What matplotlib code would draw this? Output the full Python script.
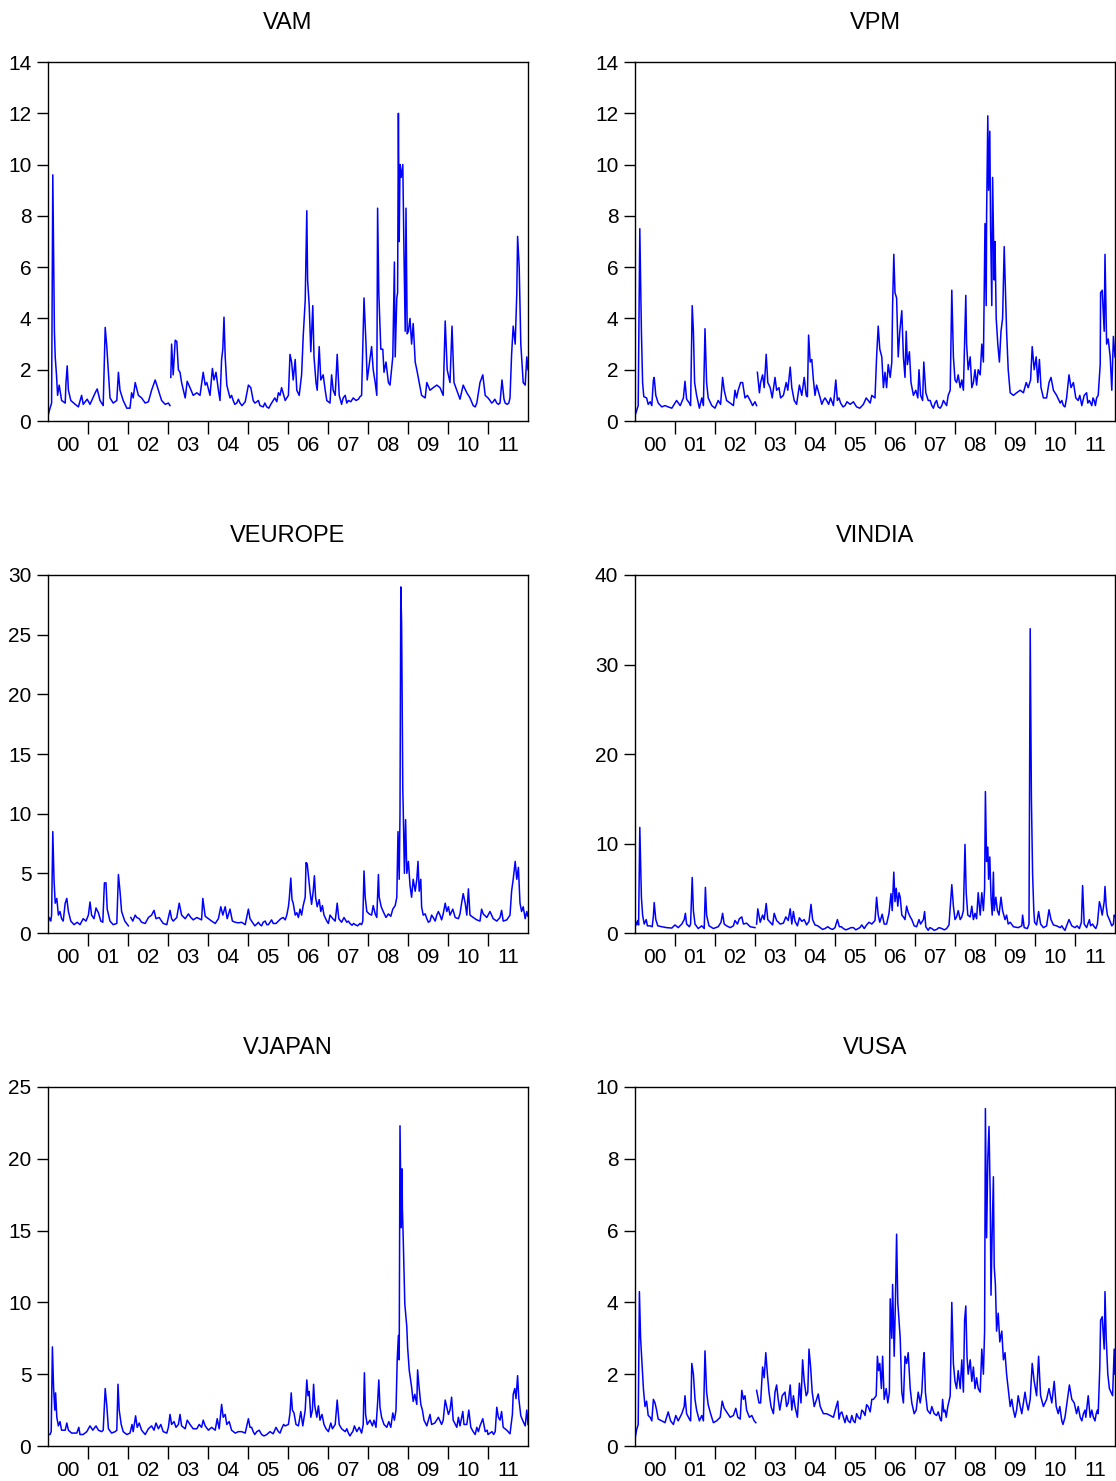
import numpy as np
import matplotlib
matplotlib.use("Agg")
import matplotlib.pyplot as plt
from matplotlib.ticker import FixedLocator, NullFormatter, FixedFormatter

plt.rcParams["font.family"] = ["Liberation Sans", "DejaVu Sans"]

# (decimal year, value); None marks a break in the series
VAM = [
    (2000.00, 0.2), (2000.05, 0.5), (2000.09, 0.7), (2000.12, 9.6), (2000.16, 3.5), (2000.18, 2.5),
    (2000.21, 1.85), (2000.24, 1.0), (2000.28, 1.4), (2000.34, 0.8), (2000.43, 0.7), (2000.45, 1.5),
    (2000.48, 2.15), (2000.51, 1.2), (2000.57, 0.8), (2000.68, 0.65), (2000.76, 0.55), (2000.84, 1.0),
    (2000.88, 0.65), (2000.98, 0.85), (2001.05, 0.65), (2001.18, 1.1), (2001.23, 1.25), (2001.30, 0.8),
    (2001.38, 0.6), (2001.43, 3.65), (2001.47, 2.9), (2001.51, 1.9), (2001.55, 0.9), (2001.63, 0.7),
    (2001.72, 0.8), (2001.76, 1.9), (2001.80, 1.2), (2001.88, 0.8), (2001.97, 0.5), (2002.05, 0.5),
    (2002.09, 1.1), (2002.13, 0.9), (2002.18, 1.5), (2002.26, 1.0), (2002.34, 0.9), (2002.43, 0.7),
    (2002.51, 0.75), (2002.59, 1.2), (2002.68, 1.6), (2002.76, 1.2), (2002.84, 0.8), (2002.93, 0.65),
    (2003.01, 0.7), (2003.05, 0.6), (2003.06, None), (2003.07, 1.7), (2003.09, 3.0), (2003.13, 1.8),
    (2003.18, 3.15), (2003.22, 3.1), (2003.26, 2.0), (2003.30, 1.9), (2003.34, 1.5), (2003.43, 0.9),
    (2003.48, 1.55), (2003.55, 1.3), (2003.63, 1.0), (2003.72, 1.1), (2003.80, 1.0), (2003.88, 1.9),
    (2003.93, 1.4), (2003.97, 1.5), (2004.05, 1.0), (2004.11, 2.05), (2004.15, 1.6), (2004.20, 1.9),
    (2004.26, 1.2), (2004.30, 0.8), (2004.34, 2.4), (2004.37, 2.8), (2004.40, 4.05), (2004.43, 2.5),
    (2004.47, 1.4), (2004.55, 0.9), (2004.59, 1.0), (2004.63, 0.8), (2004.67, 0.65), (2004.72, 0.7),
    (2004.76, 0.85), (2004.80, 0.7), (2004.85, 0.6), (2004.93, 0.75), (2005.01, 1.4), (2005.07, 1.3),
    (2005.13, 0.8), (2005.17, 0.7), (2005.22, 0.75), (2005.26, 0.8), (2005.30, 0.6), (2005.38, 0.55),
    (2005.42, 0.7), (2005.47, 0.55), (2005.52, 0.5), (2005.57, 0.65), (2005.63, 0.8), (2005.67, 0.9),
    (2005.72, 0.75), (2005.76, 1.1), (2005.80, 1.0), (2005.84, 1.3), (2005.93, 0.8), (2006.01, 1.0),
    (2006.05, 2.6), (2006.09, 2.3), (2006.13, 1.6), (2006.18, 2.4), (2006.22, 1.2), (2006.28, 1.0),
    (2006.34, 1.8), (2006.38, 3.3), (2006.43, 4.7), (2006.47, 8.2), (2006.49, 5.5), (2006.53, 4.5),
    (2006.57, 2.7), (2006.62, 4.5), (2006.65, 2.5), (2006.70, 1.5), (2006.73, 1.2), (2006.78, 2.9),
    (2006.82, 1.6), (2006.88, 1.8), (2006.93, 1.2), (2006.97, 0.8), (2007.05, 0.7), (2007.09, 1.8),
    (2007.13, 1.2), (2007.18, 1.0), (2007.23, 2.6), (2007.28, 1.0), (2007.34, 0.65), (2007.38, 0.9),
    (2007.43, 1.0), (2007.47, 0.7), (2007.51, 0.8), (2007.57, 0.75), (2007.63, 0.9), (2007.70, 0.8),
    (2007.76, 0.85), (2007.80, 0.95), (2007.84, 1.0), (2007.90, 4.8), (2007.95, 3.0),
    (2007.98, 1.6), (2008.03, 2.2), (2008.09, 2.9), (2008.13, 2.0), (2008.18, 1.5), (2008.22, 1.0),
    (2008.24, 8.3), (2008.27, 5.0), (2008.32, 2.8), (2008.37, 2.8), (2008.40, 1.9), (2008.45, 2.3),
    (2008.51, 1.5), (2008.55, 1.4), (2008.62, 2.5), (2008.66, 6.2), (2008.68, 2.5), (2008.72, 4.8),
    (2008.74, 5.0), (2008.76, 12.0), (2008.78, 7.0), (2008.80, 10.0), (2008.83, 9.5), (2008.87, 10.0),
    (2008.90, 6.5), (2008.93, 3.5), (2008.95, 8.3), (2008.98, 3.4), (2009.01, 3.5), (2009.05, 4.0),
    (2009.09, 3.0), (2009.13, 3.8), (2009.18, 2.3), (2009.22, 2.0), (2009.28, 1.5), (2009.34, 1.0),
    (2009.43, 0.9), (2009.47, 1.5), (2009.55, 1.2), (2009.63, 1.3), (2009.72, 1.4), (2009.80, 1.3),
    (2009.88, 1.0), (2009.93, 3.9), (2009.98, 2.0), (2010.05, 1.5), (2010.10, 3.7), (2010.15, 1.5),
    (2010.22, 1.2), (2010.30, 0.85), (2010.38, 1.4), (2010.47, 1.1), (2010.55, 0.9), (2010.59, 0.75),
    (2010.63, 0.6), (2010.68, 0.55), (2010.72, 0.7), (2010.80, 1.5), (2010.87, 1.8), (2010.93, 1.0),
    (2011.00, 0.9), (2011.05, 0.8), (2011.09, 0.7), (2011.13, 0.75), (2011.17, 0.85), (2011.22, 0.7),
    (2011.26, 0.65), (2011.30, 0.7), (2011.35, 1.6), (2011.40, 0.85), (2011.43, 0.7), (2011.48, 0.65),
    (2011.52, 0.7), (2011.55, 0.9),
    (2011.59, 2.6), (2011.63, 3.7), (2011.68, 3.0), (2011.72, 5.0), (2011.74, 7.2), (2011.78, 6.0),
    (2011.82, 3.0), (2011.88, 1.5), (2011.93, 1.4), (2011.97, 2.5), (2012.00, 2.0),
]

VPM = [
    (2000.00, 0.2), (2000.04, 0.4), (2000.08, 0.6), (2000.12, 7.5), (2000.16, 3.5), (2000.19, 1.5),
    (2000.22, 0.95), (2000.29, 0.9), (2000.33, 0.65), (2000.38, 0.75), (2000.42, 0.6), (2000.46, 1.6),
    (2000.48, 1.7), (2000.52, 1.0), (2000.58, 0.7), (2000.67, 0.55), (2000.75, 0.6), (2000.83, 0.55),
    (2000.92, 0.5), (2001.04, 0.8), (2001.13, 0.6), (2001.21, 0.9), (2001.25, 1.55), (2001.29, 0.85),
    (2001.36, 0.7), (2001.39, 0.6), (2001.43, 4.5), (2001.46, 3.5), (2001.49, 1.5), (2001.54, 1.0),
    (2001.61, 0.5), (2001.67, 0.9), (2001.71, 0.6), (2001.75, 3.6), (2001.79, 1.5), (2001.83, 0.9),
    (2001.92, 0.6), (2002.00, 0.5), (2002.08, 0.8), (2002.14, 0.65), (2002.19, 1.7), (2002.23, 1.2),
    (2002.29, 0.8), (2002.38, 0.7), (2002.46, 0.6), (2002.50, 1.2), (2002.54, 0.9), (2002.58, 1.2),
    (2002.64, 1.5), (2002.69, 1.5), (2002.75, 0.9), (2002.81, 1.0), (2002.88, 0.8), (2002.94, 0.6),
    (2003.00, 0.75), (2003.04, 0.6), (2003.05, None), (2003.06, 1.9), (2003.11, 1.1), (2003.14, 1.5),
    (2003.19, 1.8), (2003.23, 1.3), (2003.28, 2.6), (2003.32, 1.5), (2003.38, 1.3), (2003.43, 0.9),
    (2003.50, 1.7), (2003.54, 1.2), (2003.60, 1.3), (2003.64, 0.9), (2003.71, 1.0), (2003.78, 1.5),
    (2003.82, 1.2), (2003.88, 2.1), (2003.92, 1.3), (2003.98, 0.8), (2004.04, 0.65), (2004.11, 1.4),
    (2004.17, 1.0), (2004.23, 1.7), (2004.28, 1.0), (2004.31, 0.95), (2004.34, 3.35), (2004.38, 2.3),
    (2004.42, 2.4), (2004.46, 1.6), (2004.50, 1.0), (2004.54, 1.4), (2004.63, 0.9), (2004.67, 0.65),
    (2004.71, 0.8), (2004.75, 0.9), (2004.79, 0.8), (2004.84, 0.65), (2004.89, 0.9), (2004.96, 0.6),
    (2005.02, 1.6), (2005.06, 0.8), (2005.10, 0.9), (2005.14, 0.7), (2005.20, 0.55), (2005.25, 0.6),
    (2005.30, 0.75), (2005.38, 0.65), (2005.46, 0.75), (2005.54, 0.55), (2005.62, 0.5), (2005.71, 0.65),
    (2005.78, 0.9), (2005.83, 0.8), (2005.88, 0.7), (2005.92, 1.0),
    (2006.00, 0.9), (2006.04, 2.5), (2006.08, 3.7), (2006.12, 2.8), (2006.17, 2.5), (2006.21, 1.3),
    (2006.25, 1.9), (2006.29, 1.3), (2006.33, 2.2), (2006.38, 1.7), (2006.42, 2.3), (2006.44, 4.5),
    (2006.47, 6.5), (2006.50, 5.0), (2006.54, 4.8), (2006.58, 2.5), (2006.62, 3.5), (2006.67, 4.3),
    (2006.71, 2.5), (2006.75, 1.7), (2006.78, 3.5), (2006.81, 2.2), (2006.86, 2.7), (2006.90, 1.5),
    (2006.96, 1.0), (2007.02, 1.2), (2007.07, 0.9), (2007.10, 2.0), (2007.14, 1.0), (2007.19, 0.8),
    (2007.22, 2.3), (2007.27, 1.1), (2007.33, 0.8), (2007.38, 0.8), (2007.42, 0.6), (2007.46, 0.5),
    (2007.50, 0.7), (2007.54, 0.8), (2007.58, 0.55), (2007.63, 0.5), (2007.67, 0.6), (2007.71, 0.8),
    (2007.75, 0.7), (2007.79, 0.6), (2007.83, 1.0), (2007.88, 1.2), (2007.92, 5.1), (2007.96, 2.5),
    (2008.00, 1.6), (2008.04, 1.5), (2008.08, 1.8), (2008.13, 1.3), (2008.17, 1.6), (2008.21, 1.2),
    (2008.24, 3.0), (2008.27, 4.9), (2008.29, 3.0), (2008.33, 2.0), (2008.38, 2.5), (2008.42, 1.3),
    (2008.46, 1.5), (2008.50, 2.0), (2008.54, 1.4), (2008.58, 2.0), (2008.63, 1.8), (2008.67, 3.0),
    (2008.71, 2.3), (2008.75, 7.7), (2008.78, 4.5), (2008.79, 8.0), (2008.82, 11.9), (2008.84, 9.0),
    (2008.87, 11.3), (2008.89, 7.5), (2008.92, 4.5), (2008.94, 9.5), (2008.98, 5.5), (2009.00, 7.0),
    (2009.03, 4.0), (2009.07, 3.0), (2009.11, 2.3), (2009.15, 3.5), (2009.19, 4.0), (2009.23, 6.8),
    (2009.27, 4.5), (2009.29, 3.5), (2009.33, 2.0), (2009.38, 1.1), (2009.46, 1.0), (2009.54, 1.1),
    (2009.63, 1.2), (2009.71, 1.1), (2009.78, 1.5), (2009.83, 1.3), (2009.89, 1.6), (2009.93, 2.9),
    (2009.98, 2.0), (2010.03, 2.5), (2010.07, 1.5), (2010.11, 2.4), (2010.15, 1.3), (2010.21, 0.9),
    (2010.29, 0.9), (2010.35, 1.5), (2010.40, 1.7), (2010.46, 1.2), (2010.54, 1.0), (2010.63, 0.7),
    (2010.67, 0.8), (2010.71, 0.6), (2010.75, 0.55), (2010.79, 0.9), (2010.85, 1.8), (2010.90, 1.3),
    (2010.96, 1.5), (2011.02, 0.9), (2011.08, 0.8), (2011.12, 1.0), (2011.17, 0.6), (2011.20, 0.8),
    (2011.23, 1.0), (2011.29, 1.1), (2011.32, 0.7), (2011.36, 0.8), (2011.42, 0.6), (2011.45, 0.9),
    (2011.48, 0.8), (2011.51, 0.6), (2011.54, 0.9), (2011.58, 1.0), (2011.63, 2.2), (2011.64, 5.0),
    (2011.68, 5.1), (2011.73, 3.5), (2011.75, 6.5), (2011.79, 3.0), (2011.83, 3.2), (2011.88, 2.5),
    (2011.92, 1.2), (2011.96, 3.3), (2012.00, 2.5),
]

VEUROPE = [
    (2000.00, 0.8), (2000.03, 1.3), (2000.07, 1.0), (2000.09, 1.5), (2000.12, 8.5), (2000.15, 4.5),
    (2000.18, 2.5), (2000.22, 2.9), (2000.26, 1.5), (2000.30, 1.8), (2000.34, 1.2), (2000.38, 1.0),
    (2000.43, 2.5), (2000.47, 2.9), (2000.51, 1.8), (2000.57, 1.0), (2000.65, 0.7), (2000.73, 0.9),
    (2000.80, 0.7), (2000.88, 1.2), (2000.95, 1.0), (2001.01, 1.5), (2001.05, 2.6), (2001.09, 1.5),
    (2001.15, 1.2), (2001.20, 2.1), (2001.26, 1.7), (2001.32, 1.0), (2001.37, 0.9), (2001.41, 4.2),
    (2001.45, 4.2), (2001.48, 2.0), (2001.55, 1.0), (2001.63, 0.7), (2001.72, 0.8), (2001.76, 4.9),
    (2001.80, 3.5), (2001.84, 1.8), (2001.92, 1.0), (2002.01, 0.6), (2002.04, None), (2002.07, 1.3),
    (2002.12, 1.0), (2002.18, 1.5), (2002.22, 1.3), (2002.28, 1.2), (2002.34, 0.9), (2002.43, 0.8),
    (2002.51, 1.3), (2002.59, 1.5), (2002.65, 1.9), (2002.70, 1.2), (2002.78, 1.3), (2002.88, 0.8),
    (2002.97, 0.7), (2003.05, 1.9), (2003.09, 1.2), (2003.13, 1.0), (2003.22, 1.3), (2003.28, 2.5),
    (2003.34, 1.5), (2003.43, 1.2), (2003.51, 1.6), (2003.57, 1.3), (2003.63, 1.1), (2003.72, 1.3),
    (2003.78, 1.2), (2003.84, 1.1), (2003.87, 2.9), (2003.93, 1.4), (2004.01, 1.2), (2004.09, 1.0),
    (2004.18, 0.8), (2004.26, 1.2), (2004.32, 2.2), (2004.37, 1.5), (2004.43, 2.2), (2004.48, 1.2),
    (2004.55, 2.0), (2004.61, 1.0), (2004.68, 0.9), (2004.76, 0.85), (2004.84, 0.9), (2004.93, 0.7),
    (2005.01, 2.0), (2005.05, 1.2), (2005.09, 1.0), (2005.13, 0.8), (2005.17, 0.6), (2005.22, 0.75),
    (2005.26, 0.9), (2005.30, 0.7), (2005.34, 0.6), (2005.38, 0.9), (2005.43, 1.0), (2005.47, 0.7),
    (2005.51, 0.7), (2005.55, 0.9), (2005.59, 1.1), (2005.63, 0.8), (2005.70, 0.8), (2005.76, 1.0),
    (2005.82, 1.2), (2005.88, 1.3), (2005.93, 1.1), (2005.97, 1.5),
    (2006.01, 2.2), (2006.03, 2.8), (2006.07, 4.6), (2006.10, 2.8), (2006.13, 2.5), (2006.18, 1.5),
    (2006.22, 1.7), (2006.26, 1.3), (2006.30, 2.0), (2006.34, 1.5), (2006.38, 2.3), (2006.43, 3.0),
    (2006.45, 5.9), (2006.48, 5.8), (2006.52, 4.5), (2006.55, 3.5), (2006.59, 2.4), (2006.63, 3.5),
    (2006.66, 4.8), (2006.69, 3.0), (2006.73, 2.2), (2006.78, 2.8), (2006.82, 1.8), (2006.86, 2.3),
    (2006.90, 1.5), (2006.97, 1.0), (2007.01, 0.8), (2007.05, 1.5), (2007.12, 1.2), (2007.18, 1.0),
    (2007.23, 2.5), (2007.27, 1.2), (2007.34, 0.9), (2007.40, 1.3), (2007.47, 0.9), (2007.51, 1.0),
    (2007.55, 0.8), (2007.60, 0.65), (2007.64, 0.8), (2007.68, 0.7), (2007.74, 0.6), (2007.80, 0.8),
    (2007.84, 0.7), (2007.87, 1.0), (2007.90, 5.2), (2007.93, 3.0), (2007.97, 1.8),
    (2008.03, 1.6), (2008.09, 1.5), (2008.13, 2.3), (2008.18, 1.6), (2008.22, 1.3), (2008.26, 4.9),
    (2008.28, 3.0), (2008.33, 2.2), (2008.38, 1.8), (2008.45, 1.3), (2008.51, 1.6), (2008.57, 1.4),
    (2008.62, 2.0), (2008.68, 2.3), (2008.72, 3.0), (2008.75, 8.5), (2008.78, 4.5), (2008.80, 10.0),
    (2008.82, 29.0), (2008.84, 26.0), (2008.87, 12.0), (2008.88, 10.5), (2008.91, 5.0), (2008.94, 9.5),
    (2008.97, 5.0), (2009.01, 6.0), (2009.05, 4.0), (2009.09, 3.0), (2009.13, 4.5), (2009.18, 3.5),
    (2009.22, 4.5), (2009.25, 6.0), (2009.28, 3.5), (2009.32, 4.5), (2009.34, 2.2), (2009.38, 1.5),
    (2009.43, 1.6), (2009.47, 1.2), (2009.51, 0.9), (2009.55, 1.0), (2009.59, 1.5), (2009.63, 1.3),
    (2009.68, 1.0), (2009.72, 1.5), (2009.76, 1.8), (2009.80, 1.5), (2009.84, 1.1), (2009.88, 1.6),
    (2009.93, 2.5), (2009.97, 1.8), (2010.01, 2.2), (2010.05, 1.5), (2010.12, 2.0), (2010.18, 1.3),
    (2010.26, 1.2), (2010.30, 1.6), (2010.34, 2.5), (2010.38, 3.3), (2010.43, 2.5), (2010.47, 1.5),
    (2010.51, 3.7), (2010.55, 1.5), (2010.63, 1.3), (2010.72, 1.1), (2010.80, 1.0), (2010.84, 2.0),
    (2010.88, 1.6), (2010.97, 1.3), (2011.05, 1.8), (2011.13, 1.2), (2011.22, 1.0), (2011.30, 1.3),
    (2011.34, 1.9), (2011.38, 1.0), (2011.47, 1.1), (2011.55, 1.5), (2011.59, 3.5), (2011.63, 4.5),
    (2011.68, 6.0), (2011.72, 4.5), (2011.76, 5.5), (2011.80, 2.5), (2011.84, 1.8), (2011.88, 2.2),
    (2011.93, 1.2), (2011.97, 1.8), (2012.00, 1.4),
]

VINDIA = [
    (2000.00, 1.5), (2000.04, 0.9), (2000.07, 1.4), (2000.09, 0.9), (2000.12, 11.8), (2000.16, 4.0),
    (2000.19, 2.0), (2000.23, 1.0), (2000.28, 1.5), (2000.31, 0.8), (2000.38, 0.8), (2000.43, 0.7),
    (2000.46, 1.9), (2000.48, 3.4), (2000.52, 1.5), (2000.57, 0.8), (2000.67, 0.7), (2000.79, 0.6),
    (2000.92, 0.55), (2001.00, 0.9), (2001.08, 0.6), (2001.17, 1.0), (2001.23, 1.5), (2001.26, 2.2),
    (2001.29, 1.0), (2001.36, 0.7), (2001.39, 1.0), (2001.43, 6.2), (2001.46, 2.5), (2001.50, 1.0),
    (2001.58, 0.5), (2001.67, 0.8), (2001.73, 0.5), (2001.76, 5.1), (2001.79, 2.0), (2001.85, 0.8),
    (2001.96, 0.5), (2002.08, 0.7), (2002.15, 1.2), (2002.19, 2.2), (2002.23, 1.0), (2002.29, 0.8),
    (2002.38, 0.6), (2002.46, 0.8), (2002.50, 1.4), (2002.56, 1.0), (2002.61, 1.6), (2002.67, 1.8),
    (2002.71, 1.0), (2002.79, 1.1), (2002.88, 0.7), (2003.00, 0.6), (2003.02, None), (2003.04, 1.0),
    (2003.07, 2.7), (2003.13, 1.2), (2003.19, 2.0), (2003.23, 1.5), (2003.28, 3.3), (2003.32, 1.5),
    (2003.38, 1.2), (2003.44, 0.9), (2003.48, 2.2), (2003.54, 1.4), (2003.63, 1.0), (2003.71, 1.1),
    (2003.77, 1.8), (2003.83, 1.4), (2003.88, 2.7), (2003.92, 1.0), (2003.96, 2.4), (2004.00, 1.3),
    (2004.06, 0.8), (2004.11, 1.7), (2004.17, 1.3), (2004.23, 1.5), (2004.29, 0.9), (2004.35, 1.3),
    (2004.40, 3.2), (2004.44, 1.5), (2004.50, 0.9), (2004.57, 0.8), (2004.63, 0.6), (2004.69, 0.4),
    (2004.75, 0.5), (2004.82, 0.7), (2004.88, 0.5), (2004.94, 0.4), (2005.00, 0.6), (2005.06, 1.5),
    (2005.11, 0.7), (2005.16, 0.7), (2005.21, 0.5), (2005.27, 0.35), (2005.33, 0.45), (2005.40, 0.6),
    (2005.46, 0.6), (2005.52, 0.35), (2005.58, 0.5), (2005.62, 0.6), (2005.67, 0.9), (2005.73, 0.5),
    (2005.79, 0.9), (2005.85, 1.2), (2005.92, 1.0), (2006.00, 1.4), (2006.04, 4.0),
    (2006.08, 2.0), (2006.12, 1.2), (2006.18, 2.1), (2006.23, 1.0), (2006.29, 1.0), (2006.35, 2.2),
    (2006.40, 4.4), (2006.43, 2.5), (2006.47, 6.8), (2006.50, 3.5), (2006.53, 5.0), (2006.57, 3.0),
    (2006.60, 4.5), (2006.63, 4.0), (2006.67, 2.0), (2006.71, 1.8), (2006.75, 1.5), (2006.79, 3.0),
    (2006.83, 2.3), (2006.88, 1.8), (2006.92, 1.5), (2006.98, 0.8), (2007.04, 0.7), (2007.10, 1.5),
    (2007.14, 1.0), (2007.21, 1.5), (2007.24, 2.4), (2007.27, 0.7), (2007.33, 0.3), (2007.37, 0.6),
    (2007.42, 0.5), (2007.48, 0.3), (2007.54, 0.4), (2007.60, 0.6), (2007.67, 0.5), (2007.73, 0.35),
    (2007.79, 0.5), (2007.85, 0.9), (2007.92, 5.4), (2007.96, 3.0),
    (2008.00, 1.5), (2008.04, 1.8), (2008.08, 2.5), (2008.13, 1.5), (2008.17, 1.8), (2008.21, 2.5),
    (2008.25, 9.9), (2008.28, 4.5), (2008.32, 2.0), (2008.38, 1.8), (2008.42, 3.0), (2008.46, 1.5),
    (2008.50, 2.2), (2008.54, 1.6), (2008.58, 4.5), (2008.63, 2.0), (2008.67, 4.5), (2008.71, 2.5),
    (2008.74, 5.0), (2008.76, 15.8), (2008.79, 8.0), (2008.82, 9.6), (2008.84, 6.0), (2008.87, 8.5),
    (2008.90, 4.0), (2008.93, 2.0), (2008.96, 6.8), (2008.98, 2.5), (2009.02, 4.0), (2009.06, 2.5),
    (2009.10, 2.0), (2009.15, 4.0), (2009.19, 2.5), (2009.25, 1.5), (2009.29, 2.0), (2009.33, 1.0),
    (2009.38, 1.2), (2009.46, 0.7), (2009.58, 0.6), (2009.67, 0.8), (2009.69, 2.0), (2009.73, 0.6),
    (2009.81, 0.5), (2009.85, 1.0), (2009.88, 34.0), (2009.91, 15.0), (2009.94, 6.6), (2009.97, 2.5),
    (2009.99, 1.2), (2010.04, 0.9), (2010.09, 2.4), (2010.14, 1.0), (2010.21, 0.6), (2010.29, 0.8),
    (2010.35, 2.6), (2010.40, 1.5), (2010.46, 0.9), (2010.54, 0.8), (2010.63, 0.6), (2010.67, 0.8),
    (2010.71, 0.5), (2010.75, 0.3), (2010.79, 0.8), (2010.85, 1.5), (2010.92, 0.8), (2011.00, 0.6),
    (2011.05, 0.8), (2011.11, 0.5), (2011.16, 1.2), (2011.19, 5.3), (2011.23, 1.0), (2011.29, 0.6),
    (2011.36, 1.5), (2011.39, 0.8), (2011.44, 1.0), (2011.48, 0.7), (2011.52, 0.5),
    (2011.56, 1.0), (2011.61, 3.5), (2011.64, 3.0), (2011.68, 2.0), (2011.73, 3.5), (2011.75, 5.2),
    (2011.78, 3.0), (2011.81, 2.0), (2011.86, 1.5), (2011.92, 0.8), (2011.96, 1.0), (2011.98, 2.0),
    (2012.00, 1.8),
]

VJAPAN = [
    (2000.00, 0.8), (2000.05, 0.8), (2000.08, 1.0), (2000.11, 6.9), (2000.14, 4.0), (2000.17, 2.5),
    (2000.19, 3.7), (2000.22, 2.0), (2000.26, 1.4), (2000.30, 1.7), (2000.34, 1.1), (2000.43, 1.1),
    (2000.47, 1.6), (2000.51, 1.1), (2000.59, 0.9), (2000.72, 0.9), (2000.77, 1.3), (2000.80, 0.8),
    (2000.88, 0.8), (2000.97, 1.0), (2001.05, 1.4), (2001.12, 1.1), (2001.20, 1.4), (2001.26, 1.1),
    (2001.34, 1.0), (2001.38, 1.1), (2001.43, 4.0), (2001.47, 2.8), (2001.51, 1.2), (2001.59, 0.9),
    (2001.68, 1.0), (2001.72, 1.1), (2001.75, 4.3), (2001.78, 2.5), (2001.83, 1.5), (2001.88, 1.0),
    (2001.97, 0.8), (2002.05, 0.9), (2002.10, 1.5), (2002.13, 1.0), (2002.19, 2.1), (2002.23, 1.3),
    (2002.28, 1.6), (2002.34, 1.1), (2002.43, 0.8), (2002.51, 1.2), (2002.59, 1.4), (2002.65, 1.1),
    (2002.70, 1.6), (2002.76, 1.2), (2002.82, 1.5), (2002.88, 1.0), (2002.97, 0.9), (2003.01, 1.3),
    (2003.05, 2.2), (2003.09, 1.5), (2003.15, 1.7), (2003.20, 1.3), (2003.26, 1.5), (2003.30, 2.2),
    (2003.34, 1.4), (2003.43, 1.2), (2003.48, 1.8), (2003.55, 1.5), (2003.63, 1.2), (2003.72, 1.2),
    (2003.78, 1.5), (2003.84, 1.3), (2003.88, 1.8), (2003.93, 1.4), (2004.01, 1.1), (2004.09, 1.3),
    (2004.18, 1.1), (2004.23, 1.9), (2004.28, 1.2), (2004.34, 2.9), (2004.38, 2.0), (2004.43, 2.2),
    (2004.47, 1.5), (2004.53, 1.7), (2004.59, 1.1), (2004.68, 0.9), (2004.76, 1.0), (2004.84, 1.0),
    (2004.93, 0.9), (2005.01, 1.9), (2005.05, 1.3), (2005.09, 1.3), (2005.13, 1.0), (2005.17, 0.8),
    (2005.22, 1.0), (2005.28, 1.1), (2005.34, 0.8), (2005.40, 0.7), (2005.47, 0.8), (2005.55, 1.0),
    (2005.63, 0.85), (2005.70, 1.3), (2005.76, 1.0), (2005.80, 0.9), (2005.84, 1.2), (2005.89, 1.5),
    (2005.93, 1.4), (2006.01, 1.5),
    (2006.05, 2.3), (2006.08, 3.7), (2006.11, 2.5), (2006.15, 2.3), (2006.20, 1.5), (2006.26, 1.4),
    (2006.32, 2.4), (2006.37, 1.4), (2006.43, 2.5), (2006.47, 4.6), (2006.50, 3.5), (2006.53, 3.8),
    (2006.57, 2.0), (2006.61, 2.5), (2006.64, 4.3), (2006.67, 2.8), (2006.72, 2.0), (2006.76, 2.8),
    (2006.80, 1.8), (2006.85, 2.2), (2006.90, 1.5), (2006.95, 1.2), (2007.01, 1.0), (2007.07, 1.6),
    (2007.11, 1.2), (2007.18, 1.5), (2007.23, 3.2), (2007.28, 1.5), (2007.34, 1.2), (2007.43, 1.0),
    (2007.47, 1.2), (2007.51, 0.9), (2007.55, 0.7), (2007.59, 0.9), (2007.62, 1.0), (2007.66, 1.4),
    (2007.72, 1.0), (2007.78, 1.3), (2007.84, 0.9),
    (2007.88, 1.5), (2007.91, 5.1), (2007.94, 2.2), (2007.98, 1.5), (2008.05, 1.8), (2008.11, 1.4),
    (2008.15, 1.8), (2008.20, 1.3), (2008.24, 3.0), (2008.27, 4.6), (2008.30, 2.7), (2008.34, 2.0),
    (2008.40, 1.5), (2008.47, 1.3), (2008.52, 1.7), (2008.57, 1.3), (2008.62, 2.3), (2008.66, 1.8),
    (2008.70, 2.5), (2008.73, 6.0), (2008.76, 7.7), (2008.78, 6.0), (2008.80, 22.3), (2008.83, 15.2),
    (2008.85, 19.3), (2008.86, 16.5), (2008.88, 14.5), (2008.92, 9.9), (2008.97, 8.3), (2008.99, 6.9),
    (2009.03, 5.3), (2009.09, 4.1), (2009.13, 3.1), (2009.17, 3.6), (2009.22, 2.9), (2009.24, 5.3),
    (2009.27, 4.3), (2009.32, 2.9), (2009.36, 2.5), (2009.40, 1.8), (2009.47, 1.4), (2009.55, 2.2),
    (2009.59, 1.5), (2009.67, 1.6), (2009.76, 2.0), (2009.84, 1.5), (2009.88, 1.8), (2009.93, 3.2),
    (2009.97, 2.7), (2010.01, 2.2), (2010.05, 2.5), (2010.09, 3.4), (2010.13, 1.8), (2010.22, 1.3),
    (2010.26, 2.0), (2010.30, 1.4), (2010.37, 2.4), (2010.40, 1.5), (2010.47, 1.5), (2010.52, 2.5),
    (2010.57, 1.3), (2010.63, 1.0), (2010.68, 0.8), (2010.72, 1.3), (2010.76, 1.0), (2010.80, 1.4),
    (2010.87, 1.9), (2010.93, 1.0), (2010.98, 1.1), (2011.00, 0.8), (2011.05, 0.9), (2011.10, 1.0),
    (2011.14, 0.8), (2011.18, 1.0), (2011.22, 2.7), (2011.26, 2.0), (2011.30, 1.8), (2011.34, 2.4),
    (2011.38, 1.3), (2011.47, 1.1), (2011.55, 0.85), (2011.61, 2.2), (2011.63, 3.6), (2011.67, 4.0),
    (2011.70, 3.3), (2011.74, 4.9), (2011.77, 3.3), (2011.82, 2.1), (2011.88, 1.7), (2011.93, 1.4),
    (2011.97, 2.5), (2012.00, 1.5),
]

VUSA = [
    (2000.00, 0.2), (2000.04, 0.45), (2000.08, 0.6), (2000.11, 4.3), (2000.14, 3.0), (2000.17, 2.4),
    (2000.21, 1.6), (2000.25, 1.1), (2000.29, 1.25), (2000.33, 0.85), (2000.38, 0.8), (2000.42, 0.7),
    (2000.46, 1.3), (2000.50, 1.2), (2000.54, 1.0), (2000.58, 0.75), (2000.67, 0.7), (2000.75, 0.65),
    (2000.83, 0.95), (2000.89, 0.7), (2000.96, 0.6), (2001.02, 0.85), (2001.08, 0.7), (2001.17, 0.9),
    (2001.23, 1.1), (2001.25, 1.4), (2001.29, 0.9), (2001.36, 0.75), (2001.39, 0.7), (2001.42, 2.3),
    (2001.46, 2.0), (2001.50, 1.3), (2001.54, 1.0), (2001.61, 0.7), (2001.67, 0.85), (2001.71, 0.7),
    (2001.75, 2.65), (2001.79, 1.5), (2001.83, 1.15), (2001.89, 0.9), (2001.96, 0.65), (2002.04, 0.7),
    (2002.13, 0.8), (2002.18, 1.25), (2002.23, 1.05), (2002.29, 0.95), (2002.38, 0.8), (2002.46, 0.85),
    (2002.52, 1.05), (2002.57, 0.8), (2002.63, 0.75), (2002.67, 1.55), (2002.71, 1.3), (2002.75, 1.4),
    (2002.79, 1.0), (2002.86, 0.8), (2002.92, 0.85), (2002.98, 0.7), (2003.02, 0.65), (2003.03, None),
    (2003.04, 1.55), (2003.10, 1.2), (2003.14, 1.2), (2003.19, 2.2), (2003.23, 1.9), (2003.27, 2.6),
    (2003.31, 2.0), (2003.35, 1.5), (2003.40, 1.1), (2003.46, 0.9), (2003.50, 1.5), (2003.54, 1.7),
    (2003.58, 1.3), (2003.62, 1.0), (2003.68, 1.4), (2003.75, 1.5), (2003.79, 1.1), (2003.83, 1.2),
    (2003.88, 1.7), (2003.92, 1.0), (2003.96, 1.4), (2004.00, 1.1), (2004.06, 0.8), (2004.11, 1.75),
    (2004.15, 1.2), (2004.19, 2.4), (2004.23, 1.8), (2004.28, 1.4), (2004.32, 1.5), (2004.35, 2.7),
    (2004.39, 2.2), (2004.43, 1.5), (2004.48, 1.1), (2004.54, 1.3), (2004.58, 1.45), (2004.63, 1.1),
    (2004.71, 0.9), (2004.79, 0.9), (2004.88, 0.85), (2004.96, 0.8), (2005.03, 1.1), (2005.07, 1.25),
    (2005.10, 0.75), (2005.13, 0.9), (2005.17, 0.95), (2005.21, 0.8), (2005.25, 0.65), (2005.29, 0.85),
    (2005.33, 0.7), (2005.38, 0.65), (2005.42, 0.85), (2005.46, 0.7), (2005.50, 0.65), (2005.54, 0.9),
    (2005.58, 0.8), (2005.63, 0.75), (2005.67, 1.0), (2005.71, 0.95), (2005.75, 0.85), (2005.79, 1.15),
    (2005.83, 1.1), (2005.88, 0.95), (2005.92, 1.3), (2005.96, 1.3),
    (2006.03, 1.4), (2006.06, 2.5), (2006.09, 2.1), (2006.12, 2.3),
    (2006.16, 1.6), (2006.19, 2.5), (2006.23, 1.3), (2006.28, 1.6), (2006.32, 1.2), (2006.36, 1.5),
    (2006.38, 4.1), (2006.42, 3.0), (2006.44, 4.5), (2006.48, 2.5), (2006.51, 4.0), (2006.54, 5.9),
    (2006.57, 4.0), (2006.60, 3.5), (2006.63, 3.0), (2006.67, 1.5), (2006.71, 1.2), (2006.75, 2.5),
    (2006.79, 2.3), (2006.83, 2.6), (2006.88, 1.6), (2006.92, 1.2), (2006.98, 0.9), (2007.03, 1.0),
    (2007.08, 1.5), (2007.13, 1.2), (2007.17, 1.5), (2007.21, 2.4), (2007.23, 2.6), (2007.26, 1.5),
    (2007.31, 1.0), (2007.38, 0.9), (2007.42, 1.1), (2007.48, 0.9), (2007.54, 0.85), (2007.58, 0.95),
    (2007.63, 0.75), (2007.66, 0.7), (2007.69, 1.3), (2007.72, 0.95), (2007.75, 1.0), (2007.78, 0.8),
    (2007.82, 1.1), (2007.88, 1.4), (2007.92, 4.0), (2007.96, 2.3),
    (2008.00, 1.8), (2008.04, 1.6), (2008.08, 2.1), (2008.13, 1.6), (2008.17, 2.4), (2008.21, 1.5),
    (2008.24, 3.5), (2008.27, 3.9), (2008.30, 2.5), (2008.33, 2.0), (2008.38, 2.4), (2008.42, 1.8),
    (2008.46, 2.2), (2008.50, 1.6), (2008.54, 1.9), (2008.58, 1.6), (2008.63, 1.5), (2008.67, 2.7),
    (2008.71, 2.0), (2008.74, 3.2), (2008.76, 9.4), (2008.79, 5.8), (2008.82, 8.0), (2008.85, 8.9),
    (2008.88, 7.0), (2008.90, 4.2), (2008.93, 6.0), (2008.96, 7.5), (2008.98, 5.0), (2009.01, 4.5),
    (2009.04, 3.2), (2009.08, 3.7), (2009.12, 2.9), (2009.17, 3.2), (2009.21, 2.4), (2009.25, 2.6),
    (2009.29, 2.0), (2009.33, 1.6), (2009.38, 1.1), (2009.42, 1.3), (2009.46, 1.0), (2009.50, 0.8),
    (2009.54, 1.0), (2009.58, 1.4), (2009.63, 1.1), (2009.67, 0.9), (2009.71, 1.2), (2009.75, 1.5),
    (2009.79, 1.2), (2009.83, 1.0), (2009.88, 1.3), (2009.93, 2.3), (2009.98, 1.8), (2010.04, 1.4),
    (2010.09, 2.5), (2010.14, 1.4), (2010.21, 1.1), (2010.29, 1.3), (2010.35, 1.6), (2010.42, 1.2),
    (2010.48, 1.8), (2010.53, 1.1), (2010.58, 0.9), (2010.62, 1.1), (2010.67, 0.7), (2010.70, 0.6),
    (2010.75, 0.8), (2010.81, 1.3), (2010.86, 1.7), (2010.92, 1.3), (2010.98, 1.2), (2011.04, 0.9),
    (2011.08, 1.1), (2011.13, 0.8), (2011.17, 0.7), (2011.21, 0.9), (2011.25, 1.0), (2011.27, 0.8),
    (2011.33, 1.4), (2011.38, 0.8), (2011.42, 1.0), (2011.46, 0.8), (2011.50, 0.7), (2011.53, 0.9),
    (2011.56, 1.0), (2011.58, 0.9),
    (2011.62, 2.2), (2011.64, 3.5), (2011.68, 3.6), (2011.73, 2.7), (2011.75, 4.3), (2011.78, 3.0),
    (2011.82, 2.0), (2011.86, 1.6), (2011.90, 1.5), (2011.94, 1.4), (2011.98, 2.7), (2012.00, 2.0),
]

TITLES = ["VAM", "VPM", "VEUROPE", "VINDIA", "VJAPAN", "VUSA"]
SERIES = [VAM, VPM, VEUROPE, VINDIA, VJAPAN, VUSA]
Y_TOPS = [14, 14, 30, 40, 25, 10]
Y_STEPS = [2, 2, 5, 10, 5, 2]
YEARS = list(range(2000, 2012))
YEAR_LABELS = [f"{y % 100:02d}" for y in YEARS]

W, H = 1116, 1481
fig = plt.figure(figsize=(W / 100, H / 100), dpi=100)

# axes boxes in pixels: (left, right) per column, (top, bottom) per row
col_px = [(48, 528), (635, 1115)]
row_px = [(62, 421), (575, 933), (1087, 1446)]

for i, (name, data) in enumerate(zip(TITLES, SERIES)):
    r, c = divmod(i, 2)
    x0, x1 = col_px[c]
    y0, y1 = row_px[r]
    ax = fig.add_axes([x0 / W, 1 - y1 / H, (x1 - x0) / W, (y1 - y0) / H])

    data = sorted(data, key=lambda p: p[0])
    t = np.array([p[0] for p in data])
    v = np.array([np.nan if p[1] is None else p[1] for p in data], dtype=float)
    ax.plot(t, v, color="#0000FF", linewidth=1.1)

    ax.set_xlim(2000, 2012)
    ax.set_ylim(0, Y_TOPS[i])
    ax.set_yticks(np.arange(0, Y_TOPS[i] + 0.1, Y_STEPS[i]))

    # ticks at year boundaries, labels centred in each year
    ax.xaxis.set_major_locator(FixedLocator(YEARS[1:]))
    ax.xaxis.set_major_formatter(NullFormatter())
    ax.xaxis.set_minor_locator(FixedLocator([y + 0.5 for y in YEARS]))
    ax.xaxis.set_minor_formatter(FixedFormatter(YEAR_LABELS))
    ax.tick_params(axis="x", which="major", direction="out", length=9, width=1.0)
    ax.tick_params(axis="x", which="minor", length=0, pad=11, labelsize=15)
    ax.tick_params(axis="y", direction="out", length=8, width=1.0, pad=4, labelsize=15)

    for s in ax.spines.values():
        s.set_linewidth(1.0)
        s.set_color("black")

    ax.set_title(name, fontsize=17, pad=24)

fig.savefig("out.png", dpi=100)
